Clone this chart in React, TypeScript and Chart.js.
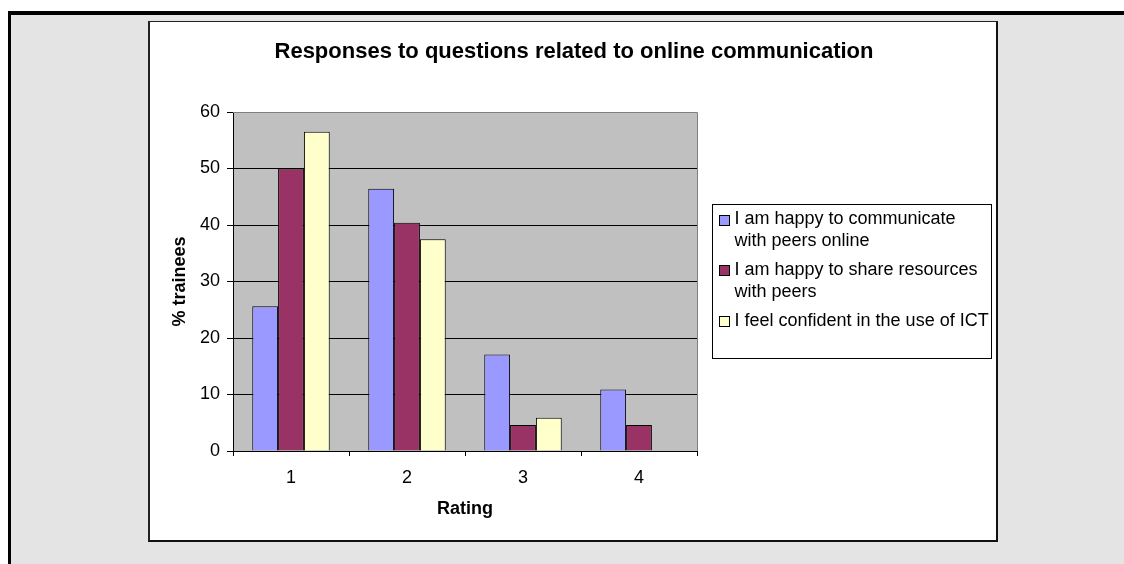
import React, { useEffect, useRef } from "react";
import { Chart, registerables } from "chart.js";

Chart.register(...registerables);

const chartTitle = "Responses to questions related to online communication";
const xAxisTitle = "Rating";
const yAxisTitle = "% trainees";
const categories = ["1", "2", "3", "4"];
const seriesNames = [
  "I am happy to communicate with peers online",
  "I am happy to share resources with peers",
  "I feel confident in the use of ICT",
];
const legendLines = [
  ["I am happy to communicate", "with peers online"],
  ["I am happy to share resources", "with peers"],
  ["I feel confident in the use of ICT"],
];
const communicateOnline = [25.6, 46.4, 17.1, 10.9];
const shareResources = [50, 40.4, 4.6, 4.6];
const confidentICT = [56.5, 37.5, 5.9, 0];
const yMin = 0;
const yMax = 60;
const yStep = 10;

const seriesColors = ["#9999FF", "#993366", "#FFFFCC"];
const FONT = "'Liberation Sans', Arial, Helvetica, sans-serif";

const plotBgPlugin = {
  id: "plotBg",
  beforeDraw(chart: any) {
    const { ctx, chartArea } = chart;
    ctx.save();
    ctx.fillStyle = "#C0C0C0";
    ctx.fillRect(chartArea.left, chartArea.top, chartArea.right - chartArea.left, chartArea.bottom - chartArea.top);
    ctx.restore();
  },
  afterDraw(chart: any) {
    const { ctx, chartArea } = chart;
    ctx.save();
    ctx.strokeStyle = "#808080";
    ctx.lineWidth = 1;
    ctx.beginPath();
    ctx.moveTo(chartArea.left, Math.round(chartArea.top) + 0.5);
    ctx.lineTo(Math.round(chartArea.right) + 0.5, Math.round(chartArea.top) + 0.5);
    ctx.lineTo(Math.round(chartArea.right) + 0.5, chartArea.bottom);
    ctx.stroke();
    // title centred on the whole chart box
    ctx.fillStyle = "#000";
    ctx.font = `bold 22px ${FONT}`;
    ctx.textAlign = "center";
    ctx.textBaseline = "middle";
    ctx.fillText(chartTitle, chart.width / 2 + 1, 30);
    ctx.restore();
  },
};

const legendPlugin = {
  id: "customLegend",
  afterDraw(chart: any) {
    const { ctx, chartArea } = chart;
    const left = Math.round(chartArea.right) + 15.5;
    const top = 182.5;
    const w = 279;
    const h = 154;
    ctx.save();
    ctx.fillStyle = "#FFFFFF";
    ctx.fillRect(left, top, w, h);
    ctx.strokeStyle = "#000000";
    ctx.lineWidth = 1;
    ctx.strokeRect(left, top, w, h);
    ctx.font = `18px ${FONT}`;
    ctx.textBaseline = "middle";
    ctx.textAlign = "left";
    let y = top + 15;
    const lineH = 21.7;
    chart.data.datasets.forEach((ds: any, i: number) => {
      const lines = legendLines[i];
      ctx.fillStyle = ds.backgroundColor;
      ctx.fillRect(left + 7, Math.round(y - 5) + 0.5, 10, 10);
      ctx.strokeStyle = "#000";
      ctx.strokeRect(left + 7, Math.round(y - 5) + 0.5, 10, 10);
      ctx.fillStyle = "#000";
      lines.forEach((t: string, j: number) => {
        ctx.fillText(t, left + 22, y + j * lineH);
      });
      y += lines.length * lineH + 7.3;
    });
    ctx.restore();
  },
};

export default function App() {
  const ref = useRef<HTMLCanvasElement | null>(null);

  useEffect(() => {
    if (!ref.current) return;
    Chart.defaults.font.family = FONT;
    const chart = new Chart(ref.current, {
      type: "bar",
      data: {
        labels: categories,
        datasets: [
          { label: seriesNames[0], data: communicateOnline, backgroundColor: seriesColors[0] },
          { label: seriesNames[1], data: shareResources, backgroundColor: seriesColors[1] },
          { label: seriesNames[2], data: confidentICT, backgroundColor: seriesColors[2] },
        ].map((d) => ({
          ...d,
          borderColor: "#000000",
          borderWidth: 1,
          categoryPercentage: 0.668,
          barPercentage: 1,
        })),
      },
      options: {
        animation: false,
        responsive: false,
        maintainAspectRatio: false,
        layout: { padding: { left: 0, right: 299, top: 90, bottom: 0 } },
        plugins: {
          legend: { display: false },
          tooltip: { enabled: false },
          title: { display: false },
        },
        scales: {
          x: {
            grid: {
              offset: true,
              drawOnChartArea: false,
              drawTicks: true,
              tickLength: 5,
              tickColor: "#000",
            },
            border: { color: "#000", width: 1 },
            ticks: { color: "#000", font: { size: 18, family: FONT }, padding: 11, maxRotation: 0 },
            title: {
              display: true,
              text: xAxisTitle,
              color: "#000",
              font: { size: 18, weight: "bold", family: FONT },
              padding: { top: 0, bottom: 20 },
            },
            afterFit: (scale: any) => {
              scale.height = 89;
            },
          },
          y: {
            min: yMin,
            max: yMax,
            ticks: { stepSize: yStep, color: "#000", font: { size: 18, family: FONT }, padding: 7 },
            grid: {
              color: (c: any) => (c.tick && c.tick.value === yMax ? "rgba(0,0,0,0)" : "#000"),
              tickColor: "#000",
              tickLength: 6,
              lineWidth: 1,
            },
            border: { color: "#000", width: 1 },
            title: {
              display: true,
              text: yAxisTitle,
              color: "#000",
              font: { size: 18, weight: "bold", family: FONT },
              padding: { top: 19, bottom: 0 },
            },
            afterFit: (scale: any) => {
              scale.width = 83;
            },
          },
        },
      },
      plugins: [plotBgPlugin, legendPlugin],
    } as any);
    return () => chart.destroy();
  }, []);

  return (
    <div style={{ position: "absolute", left: 0, top: 0, width: 1124, height: 564, background: "#FFFFFF", overflow: "hidden" }}>
      <div
        style={{
          position: "absolute",
          left: 8,
          top: 11,
          width: 1116,
          height: 553,
          boxSizing: "border-box",
          borderTop: "4px solid #000",
          borderLeft: "3px solid #000",
          background: "#E4E4E4",
        }}
      />
      <div
        style={{
          position: "absolute",
          left: 148,
          top: 21,
          width: 850,
          height: 521,
          boxSizing: "border-box",
          borderTop: "1px solid #222",
          borderLeft: "2px solid #222",
          borderRight: "2px solid #111",
          borderBottom: "2px solid #111",
          background: "#FFFFFF",
        }}
      >
        <canvas ref={ref} width={846} height={518} style={{ display: "block", width: 846, height: 518 }} />
      </div>
    </div>
  );
}
